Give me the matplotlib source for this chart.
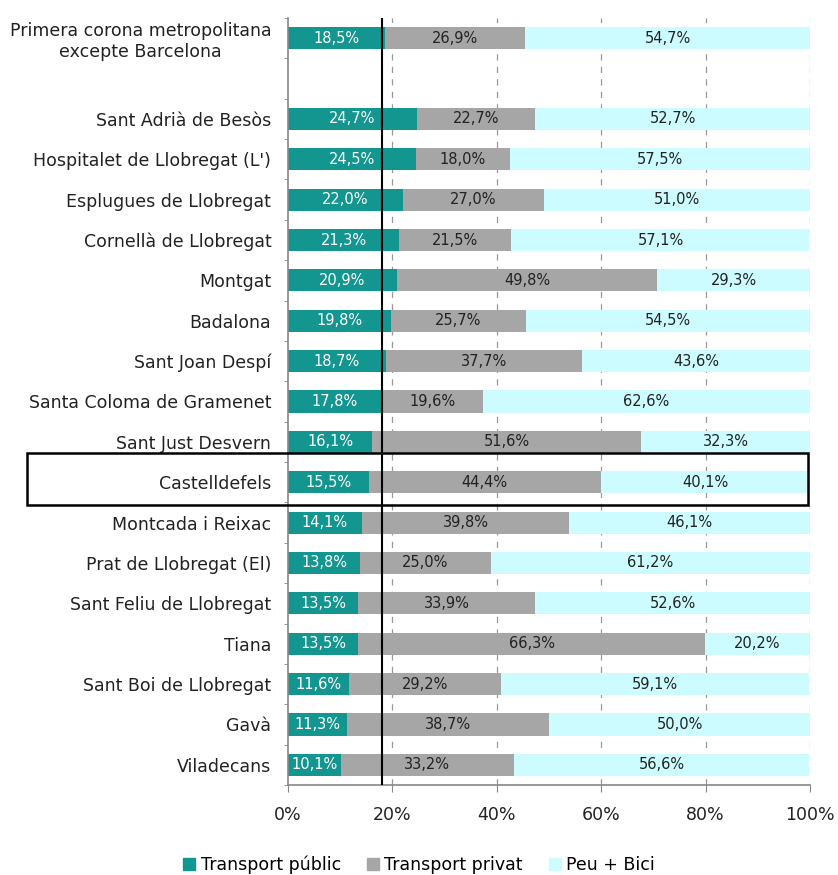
import numpy as np
import matplotlib.pyplot as plt
from matplotlib.patches import Rectangle

municipis = [
    "Primera corona metropolitana\nexcepte Barcelona",
    "Sant Adrià de Besòs",
    "Hospitalet de Llobregat (L')",
    "Esplugues de Llobregat",
    "Cornellà de Llobregat",
    "Montgat",
    "Badalona",
    "Sant Joan Despí",
    "Santa Coloma de Gramenet",
    "Sant Just Desvern",
    "Castelldefels",
    "Montcada i Reixac",
    "Prat de Llobregat (El)",
    "Sant Feliu de Llobregat",
    "Tiana",
    "Sant Boi de Llobregat",
    "Gavà",
    "Viladecans",
]
transport_public = [18.5, 24.7, 24.5, 22.0, 21.3, 20.9, 19.8, 18.7, 17.8, 16.1,
                    15.5, 14.1, 13.8, 13.5, 13.5, 11.6, 11.3, 10.1]
transport_privat = [26.9, 22.7, 18.0, 27.0, 21.5, 49.8, 25.7, 37.7, 19.6, 51.6,
                    44.4, 39.8, 25.0, 33.9, 66.3, 29.2, 38.7, 33.2]
peu_bici = [54.7, 52.7, 57.5, 51.0, 57.1, 29.3, 54.5, 43.6, 62.6, 32.3,
            40.1, 46.1, 61.2, 52.6, 20.2, 59.1, 50.0, 56.6]
linia_ref = 18.0

c_pub = "#12968f"
c_priv = "#a6a6a6"
c_peu = "#ccfcff"

# posicions: la primera fila separada de la resta per un buit
pos = np.array([0] + list(range(2, 2 + len(municipis) - 1)))

fig = plt.figure(figsize=(8.38, 8.75), dpi=100)
ax = fig.add_axes([288 / 838, 1 - 785 / 875, 522 / 838, (785 - 18) / 875])

pub = np.array(transport_public)
priv = np.array(transport_privat)
peu = np.array(peu_bici)
h = 0.55
ax.barh(pos, pub, height=h, color=c_pub, zorder=2)
ax.barh(pos, priv, left=pub, height=h, color=c_priv, zorder=2)
ax.barh(pos, peu, left=pub + priv, height=h, color=c_peu, zorder=2)

def fmt(v):
    return f"{v:.1f}%".replace(".", ",")

for y, a, b, c in zip(pos, pub, priv, peu):
    ax.text(a / 2, y, fmt(a), ha="center", va="center", color="white",
            fontsize=10.5, zorder=4)
    ax.text(a + b / 2, y, fmt(b), ha="center", va="center", color="#222222",
            fontsize=10.5, zorder=4)
    ax.text(a + b + c / 2, y, fmt(c), ha="center", va="center", color="#222222",
            fontsize=10.5, zorder=4)

ax.set_xlim(0, 100)
ax.set_ylim(18.47, -0.47)
ax.set_xticks(np.arange(0, 101, 20))
ax.set_xticklabels([f"{v}%" for v in range(0, 101, 20)], fontsize=12.5, color="#222222")
ax.set_yticks(pos)
ax.set_yticklabels(municipis, fontsize=12.5, color="#222222",
                   multialignment="center")
ax.set_yticks(np.arange(-0.5, 19, 1), minor=True)
ax.tick_params(axis="y", which="major", length=0, pad=12)
ax.tick_params(axis="y", which="minor", length=3, color="#888888")
ax.tick_params(axis="x", length=5, color="#888888", pad=10)
for v in range(20, 101, 20):
    ax.axvline(v, color="#999999", linestyle=(0, (5, 5)), linewidth=0.9, zorder=1)
ax.axvline(linia_ref, color="black", linewidth=1.5, zorder=5)

for s in ["top", "right"]:
    ax.spines[s].set_visible(False)
ax.spines["left"].set_color("#888888")
ax.spines["bottom"].set_color("#888888")
ax.spines["left"].set_linewidth(1.2)
ax.spines["bottom"].set_linewidth(1.2)

# requadre de Castelldefels
fig.patches.append(Rectangle((27 / 838, 1 - 505 / 875), (808 - 27) / 838, 52 / 875,
                             transform=fig.transFigure, fill=False,
                             edgecolor="black", linewidth=1.8, zorder=6))

handles = [Rectangle((0, 0), 1, 1, color=c) for c in (c_pub, c_priv, c_peu)]
fig.legend(handles, ["Transport públic", "Transport privat", "Peu + Bici"],
           loc="center", bbox_to_anchor=(0.5, 1 - 865 / 875), ncol=3,
           frameon=False, fontsize=12.5, handlelength=0.7, handleheight=0.7,
           handletextpad=0.3, columnspacing=1.5)

fig.savefig("out.png", dpi=100)
